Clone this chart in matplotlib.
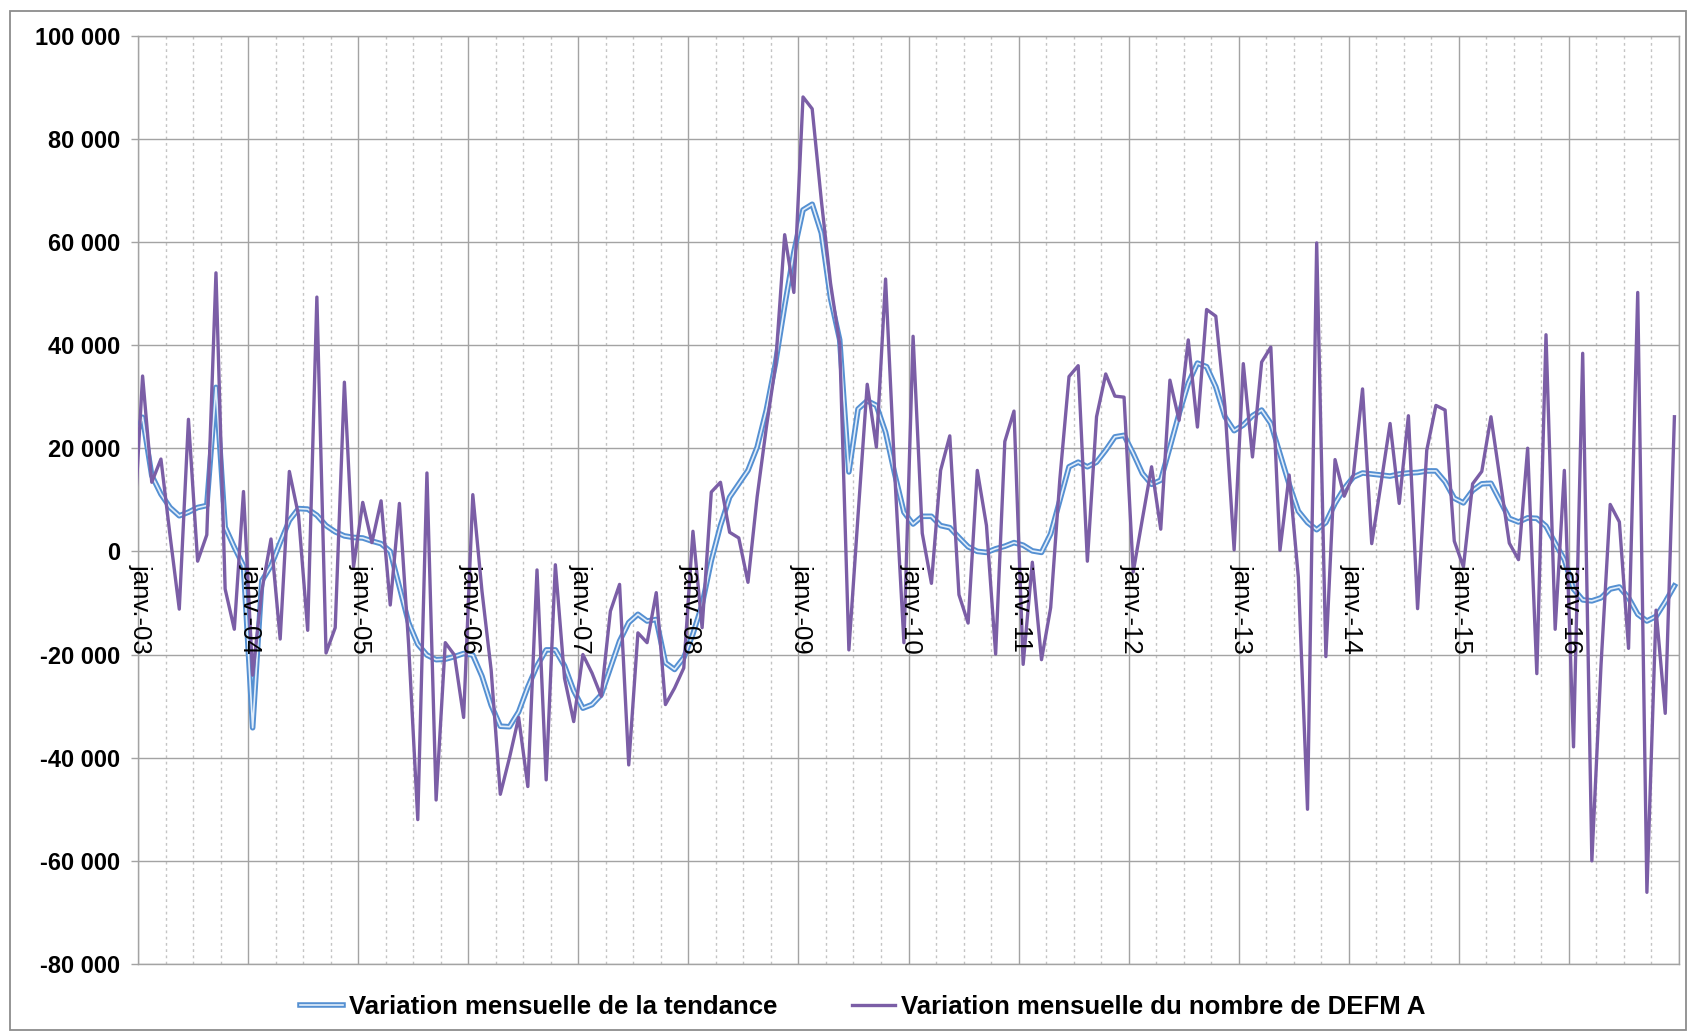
import matplotlib
matplotlib.use("Agg")
import matplotlib.pyplot as plt
import matplotlib.patheffects as pe
import numpy as np

# ---------------- data (monthly values, first value = Dec 2002, then Jan 2003 .. Dec 2016)
year_labels = ["janv.-03", "janv.-04", "janv.-05", "janv.-06", "janv.-07", "janv.-08", "janv.-09",
               "janv.-10", "janv.-11", "janv.-12", "janv.-13", "janv.-14", "janv.-15", "janv.-16"]

defm_a = [
    2400,
    34000, 13400, 17900, 3000, -11200, 25600, -1900, 3200, 54000, -7300, -15100, 11600,      # 2003
    -24000, -7600, 2400, -17000, 15500, 7000, -15300, 49300, -19700, -14800, 32800, -3000,    # 2004
    9500, 1700, 9800, -10400, 9300, -18000, -52000, 15200, -48200, -17700, -20100, -32200,    # 2005
    11000, -7700, -23000, -47100, -40000, -32200, -45600, -3600, -44300, -2600, -24600, -33000,  # 2006
    -20000, -23600, -28100, -11600, -6400, -41400, -15800, -17700, -8000, -29700, -26500, -22600,  # 2007
    3900, -14800, 11500, 13400, 3700, 2600, -6000, 10600, 24000, 36000, 61400, 50200,        # 2008
    88100, 85800, 68000, 52000, 40200, -19100, 7000, 32400, 20200, 52800, 15000, -17700,     # 2009
    41700, 3500, -6200, 15700, 22400, -8400, -13900, 15700, 5000, -19900, 21300, 27200,      # 2010
    -21900, -2100, -21000, -10900, 14000, 33900, 36000, -1900, 26100, 34400, 30100, 29900,   # 2011
    -4000, 6300, 16400, 4300, 33200, 25400, 41000, 24100, 46900, 45600, 28000, 300,          # 2012
    36400, 18300, 36700, 39600, 200, 14800, -5000, -50000, 59800, -20400, 17800, 10700,      # 2013
    14800, 31500, 1500, 13000, 24800, 9300, 26300, -11100, 19600, 28300, 27400, 2000,        # 2014
    -3000, 13100, 15500, 26100, 13900, 1600, -1600, 20000, -23700, 42000, -15100, 15700,     # 2015
    -37900, 38400, -60000, -22000, 9100, 5700, -18800, 50200, -66100, -11400, -31400, 26100,  # 2016
]

tendance = [
    21000,
    26000, 14700, 11100, 8500, 6900, 7600, 8500, 8900, 31800, 4700, 800, -2800,              # 2003
    -34200, -5700, -2800, 1700, 6000, 8300, 8200, 7000, 5000, 3800, 3000, 2700,              # 2004
    2600, 2000, 1500, 0, -6900, -13800, -18000, -20100, -21000, -20900, -20400, -19800,      # 2005
    -20100, -24200, -29800, -33900, -34000, -31100, -26300, -22200, -19100, -19100, -22200, -27000,  # 2006
    -30400, -29700, -27800, -22600, -17400, -13800, -12200, -13500, -13200, -21600, -22900, -20600,  # 2007
    -16000, -10300, -1800, 5000, 10500, 13100, 15700, 20200, 27400, 36500, 47600, 58000,     # 2008
    66200, 67300, 61700, 49100, 41000, 15400, 27600, 29200, 28300, 23100, 15000, 7600,       # 2009
    5300, 6800, 6800, 5000, 4600, 2700, 900, 0, -200, 500, 1000, 1700,                       # 2010
    1200, 100, -200, 3400, 9900, 16400, 17300, 16400, 17300, 19600, 22200, 22500,            # 2011
    19000, 15100, 13000, 13800, 20200, 26700, 32600, 36500, 35800, 31900, 26100, 23400,      # 2012
    24500, 26300, 27400, 24800, 18900, 13000, 7800, 5600, 4200, 5600, 9300, 12200,           # 2013
    14400, 15200, 15000, 14800, 14600, 15000, 15200, 15300, 15600, 15600, 13500, 10300,      # 2014
    9400, 11800, 13100, 13200, 9800, 6400, 5700, 6500, 6400, 4900, 1600, -1600,              # 2015
    -7300, -9400, -9600, -9000, -7300, -6900, -9000, -12200, -13500, -12600, -9800, -6700,   # 2016
]

y_ticks = list(range(-80000, 100001, 20000))

# ---------------- figure
plt.rcParams["font.family"] = ["Liberation Sans", "DejaVu Sans"]
W, H = 1689, 1033
fig = plt.figure(figsize=(W / 100, H / 100), dpi=100)
fig.patch.set_facecolor("white")

left, right, top, bottom = 138, 1679, 35.6, 964
ax = fig.add_axes([left / W, 1 - bottom / H, (right - left) / W, (bottom - top) / H])

x = np.arange(len(defm_a)) - 1  # month index, 0 = Jan 2003
n_months = len(defm_a) - 1

grid_col = "#a3a3a3"
ax.set_xlim(-0.5, n_months - 0.5)
ax.set_ylim(y_ticks[0], y_ticks[-1])

# y axis
ax.set_yticks(y_ticks, labels=[f"{v:,}".replace(",", " ") for v in y_ticks],
              fontweight="bold", fontsize=17)
ax.tick_params(axis="y", length=5, width=1, color=grid_col, pad=8, labelcolor="black")
ax.grid(axis="y", which="major", color=grid_col, lw=1.0)

# x axis : yearly solid lines, quarterly dotted lines
ax.set_xticks(np.arange(-0.5, n_months, 12))
ax.set_xticks(np.arange(-0.5, n_months, 3), minor=True)
ax.tick_params(axis="x", which="both", length=0, labelbottom=False)
ax.grid(axis="x", which="major", color=grid_col, lw=1.0)
ax.grid(axis="x", which="minor", color="#c4c4c4", lw=1.0, linestyle=(0, (2, 2.5)))
ax.set_axisbelow(True)

for sp in ax.spines.values():
    sp.set_color(grid_col)
    sp.set_linewidth(1.0)

# series
ax.plot(x, tendance, color="#e2eefa", lw=1.2, zorder=3, solid_joinstyle="round",
        path_effects=[pe.Stroke(linewidth=4.0, foreground="#5590d2"), pe.Normal()],
        label="Variation mensuelle de la tendance")
ax.plot(x, defm_a, color="#7b5ea6", lw=2.4, zorder=4, solid_joinstyle="round",
        label="Variation mensuelle du nombre de DEFM A")

# category labels on the zero line
for j, lab in enumerate(year_labels):
    ax.annotate(lab, xy=(12 * j - 0.2, 0), xytext=(0, -9), textcoords="offset points",
                rotation=-90, ha="center", va="top", fontsize=18.5, color="black",
                annotation_clip=False, zorder=6)

# legend
handles, labels = ax.get_legend_handles_labels()
fig.legend(handles, labels, loc="center left", bbox_to_anchor=(300 / W, 1 - 1007 / H),
           ncol=2, frameon=False, prop={"weight": "bold", "size": 18.5},
           handlelength=1.67, handletextpad=0.24, columnspacing=2.9,
           borderpad=0, borderaxespad=0)

# outer frame
fig.add_artist(plt.Rectangle((10 / W, 1 - 1030 / H), (1686 - 10) / W, (1030 - 11) / H,
                             transform=fig.transFigure, fill=False,
                             edgecolor="#8c8c8c", lw=1.3))

fig.savefig("out.png", dpi=100, facecolor="white")
